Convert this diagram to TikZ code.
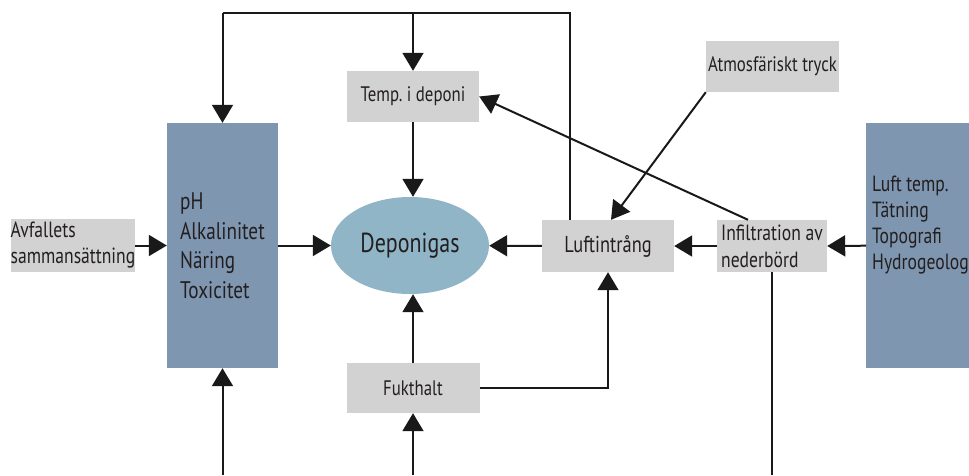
\documentclass[tikz,border=0pt]{standalone}
\usepackage{fontspec}
\setmainfont{PT Sans}[FakeStretch=0.8]
\usetikzlibrary{shapes.geometric, arrows.meta, positioning}
\definecolor{faktorblue}{RGB}{127,150,176}
\definecolor{gasblue}{RGB}{143,181,198}
\definecolor{boxgray}{RGB}{211,210,211}
\definecolor{textdark}{RGB}{35,31,32}

\begin{document}
\begin{tikzpicture}[x=1pt,y=1pt,yscale=-1,xscale=1,
  graybox/.style={fill=boxgray, inner sep=0pt, align=left, text=textdark},
  bluebox/.style={fill=faktorblue, inner sep=0pt, align=left, text=textdark},
  pil/.style={line width=2pt, color=black!90, -{Triangle[length=18pt,width=21pt]}},
  linje/.style={line width=2pt, color=black!90}]
\useasboundingbox (0,0) rectangle (969,475);

%Shape: Rectangle [blue, left]
\node[bluebox, minimum width=111pt, minimum height=245pt, font=\fontsize{24}{29.5}\selectfont] (faktorer) at (222.5,245.5) {pH\\Alkalinitet\\Näring\\Toxicitet};
%Shape: Rectangle [blue, right]
\node[bluebox, anchor=north west, minimum width=130pt, minimum height=245pt] (omgivning) at (866,123) {};
% Text Node
\node[anchor=west, align=left, inner sep=0pt, text=textdark, font=\fontsize{22}{26}\selectfont] (omgtext) at ([xshift=6pt,yshift=-21pt]omgivning.west) {Luft temp.\\Tätning\\Topografi\\Hydrogeolog};

%Shape: Rectangle [gray]
\node[graybox, minimum width=122pt, minimum height=53pt, font=\fontsize{22}{26}\selectfont] (avfall) at (73,245.5) {Avfallets\\sammansättning};
\node[graybox, minimum width=132pt, minimum height=51pt, font=\fontsize{21}{23}\selectfont] (temp) at (413,96.5) {Temp.\ i deponi};
\node[graybox, minimum width=133pt, minimum height=50pt, font=\fontsize{21}{23}\selectfont] (fukt) at (413,388) {Fukthalt};
\node[graybox, minimum width=132pt, minimum height=52pt, font=\fontsize{23}{25}\selectfont] (luft) at (608,246) {Luftintrång};
\node[graybox, minimum width=110pt, minimum height=52pt, font=\fontsize{22}{27}\selectfont] (infil) at (772,246) {Infiltration av\\nederbörd};
\node[graybox, minimum width=133pt, minimum height=51pt, font=\fontsize{21}{23}\selectfont] (atmos) at (772.5,66.5) {Atmosfäriskt tryck};

%Shape: Ellipse
\node[ellipse, fill=gasblue, minimum width=158pt, minimum height=97pt, inner sep=0pt, text=textdark, font=\fontsize{27.5}{30}\selectfont] (gas) at (410,245.5) {Deponigas};

% free ends
\coordinate (ovreH) at (570,13);
\coordinate (ovreM) at (413,13);
\coordinate (ovreV) at (222.5,13);
\coordinate (nedreV) at (222.5,475);
\coordinate (nedreM) at (413,475);
\coordinate (nedreH) at (772,475);

%Straight Lines
\draw[pil] (avfall) -- (faktorer);
\draw[pil] (faktorer) -- (gas);
\draw[pil] (luft) -- (gas);
\draw[pil] (infil) -- (luft);
\draw[pil] (omgivning.west) -- (infil.east);
\draw[pil] (temp.south) -- (temp.south |- gas.north);
\draw[pil] (fukt.north) -- (fukt.north |- gas.south);
\draw[linje] ([xshift=-38pt]luft.north) -- (ovreH) -- (ovreV);
\draw[pil] (ovreV) -- (faktorer.north);
\draw[pil] (ovreM) -- (temp.north);
\draw[pil] (atmos.south west) -- ([xshift=3pt]luft.north);
\draw[pil] ([xshift=-24pt]infil.north) -- (temp.east);
\draw[pil, line width=1.4pt] (fukt.east) -| (luft.south);
\draw[pil] (nedreV) -- (faktorer.south);
\draw[pil] (nedreM) -- (fukt.south);
\draw[linje] (infil.south) -- (nedreH);

\end{tikzpicture}
\end{document}
